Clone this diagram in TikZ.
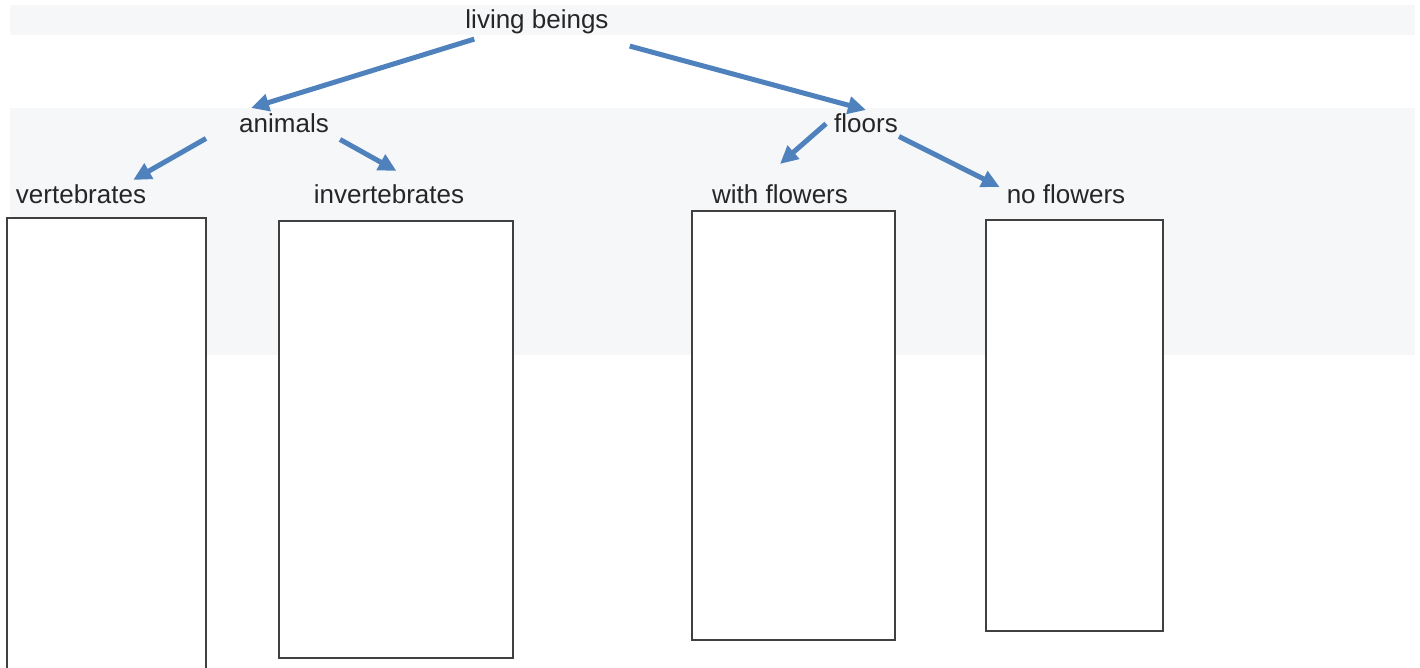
\documentclass[tikz,border=0pt]{standalone}
\usepackage{fontspec}
\setmainfont{Liberation Sans}
\usetikzlibrary{arrows.meta,positioning}
\definecolor{bandgray}{HTML}{F6F7F9}
\definecolor{arrowblue}{HTML}{4F81BD}

\begin{document}
\begin{tikzpicture}[x=1pt, y=-1pt, >={Triangle[length=18pt,width=17pt]},
    every node/.style={font=\fontsize{26}{30}\selectfont, text=black!85, inner sep=0pt},
    word/.style={anchor=base},
    box/.style={draw=black!75, line width=1.3pt, fill=white},
    branch/.style={->, line width=5pt, draw=arrowblue}
    ]
\useasboundingbox (0,0) rectangle (1420,668);
% background bands
\fill[bandgray] (10,5) rectangle (1415,35);
\fill[bandgray] (10,108) rectangle (1415,355);

\node[word] (living)  at (537,29)  {living beings};
\node[word] (animals) at (284,133) {animals};
\node[word] (floors)  at (866,133) {floors};
\node[word] (vert)    at (81,204)  {vertebrates};
\node[word] (invert)  at (389,204) {invertebrates};
\node[word] (withfl)  at (780,204) {with flowers};
\node[word] (nofl)    at (1066,204) {no flowers};

% empty boxes below each group
\node[box, minimum width=199pt, minimum height=457pt] (vertbox)   at (106.5,446.5) {};
\node[box, minimum width=234pt, minimum height=437pt] (invertbox) at (396,439.5)   {};
\node[box, minimum width=203pt, minimum height=429pt] (withbox)   at (793.5,425.5) {};
\node[box, minimum width=177pt, minimum height=411pt] (nobox)     at (1074.5,425.5) {};

% \draw[help lines] (0,0) grid (1420,668);
\draw[branch] ([shift={(9,4.5)}]living.south west) -- ([shift={(12,-6)}]animals.north west);
\draw[branch] ([shift={(21,11.5)}]living.south east) -- ([shift={(0,-4)}]floors.north);
\draw[branch] ([shift={(-33,5)}]animals.south west) -- ([shift={(-13,-5)}]vert.north east);
\draw[branch] ([shift={(11,6)}]animals.south east) -- ([shift={(7.5,-14)}]invert.north);
\draw[branch] ([shift={(-8,0)}]floors.west) -- ([shift={(0,-21)}]withfl.north);
\draw[branch] ([shift={(1,3)}]floors.south east) -- ([shift={(-7,2)}]nofl.north west);
\end{tikzpicture}
\end{document}
